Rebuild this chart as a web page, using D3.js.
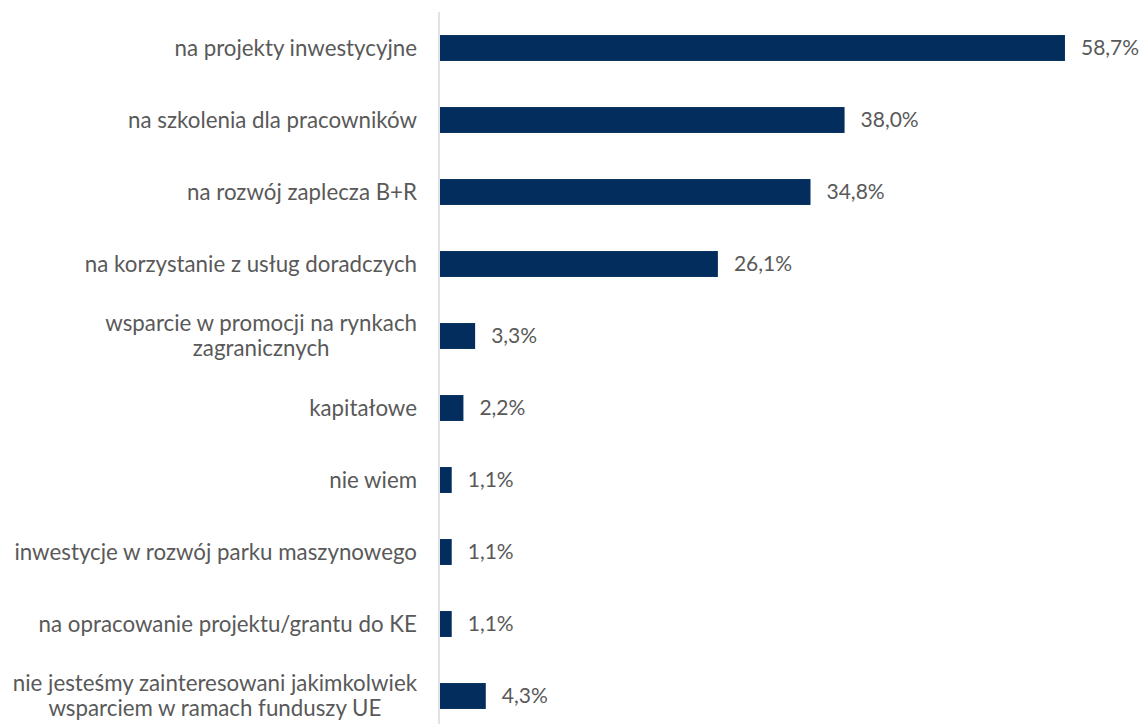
<!DOCTYPE html>
<html>
<head>
<meta charset="utf-8">
<script src="https://cdn.jsdelivr.net/npm/d3@7"></script>
<style>
  body { margin: 0; background: #fff; }
  svg { display: block; font-family: Lato, "Open Sans", sans-serif; }
</style>
</head>
<body>
<svg id="chart" width="1144" height="724"></svg>
<script>
// ── Data ──────────────────────────────────────────────────────────────────────
const categories = [
  ['na projekty inwestycyjne'],
  ['na szkolenia dla pracowników'],
  ['na rozwój zaplecza B+R'],
  ['na korzystanie z usług doradczych'],
  ['wsparcie w promocji na rynkach', 'zagranicznych'],
  ['kapitałowe'],
  ['nie wiem'],
  ['inwestycje w rozwój parku maszynowego'],
  ['na opracowanie projektu/grantu do KE'],
  ['nie jesteśmy zainteresowani jakimkolwiek', 'wsparciem w ramach funduszy UE']
];
const values = [58.7, 38.0, 34.8, 26.1, 3.3, 2.2, 1.1, 1.1, 1.1, 4.3];

// ── Layout ────────────────────────────────────────────────────────────────────
const W = 1144, H = 724;
const X0 = 440;
const BAR = '#022d5d', TEXT = '#595959';
const LABEL_SIZE = 22.3, VALUE_SIZE = 21;

const svg = d3.select('#chart');

const y = d3.scaleBand()
  .domain(d3.range(values.length))
  .range([12, 732])
  .paddingInner(0.64)
  .paddingOuter(0.32);

const x = d3.scaleLinear().domain([0, 60]).range([X0, X0 + 638.8]);

// bars
svg.append('g').selectAll('rect')
  .data(values)
  .join('rect')
  .attr('x', x(0))
  .attr('y', (d, i) => y(i))
  .attr('width', d => x(d) - x(0))
  .attr('height', y.bandwidth())
  .attr('fill', BAR);

// vertical axis line
svg.append('line')
  .attr('x1', X0 - 1).attr('x2', X0 - 1)
  .attr('y1', 12).attr('y2', H)
  .attr('stroke', '#d9d9d9').attr('stroke-width', 1.5);

// category labels
const fmt = v => d3.format('.1f')(v).replace('.', ',') + '%';
const lineH = 25;

const labels = svg.append('g').selectAll('text')
  .data(categories)
  .join('text')
  .attr('font-size', LABEL_SIZE)
  .attr('fill', TEXT)
  .each(function(lines, i) {
    const cy = y(i) + y.bandwidth() / 2;
    const t = d3.select(this);
    const n = lines.length;
    t.attr('text-anchor', n > 1 ? 'middle' : 'end');
    lines.forEach((s, k) => {
      t.append('tspan')
        .attr('x', X0 - 23)
        .attr('y', cy + (k - (n - 1) / 2) * lineH)
        .attr('dy', '0.35em')
        .text(s);
    });
  });

// multi-line labels: centred under their widest line, right-aligned to the axis
labels.each(function() {
  const t = d3.select(this);
  if (t.selectAll('tspan').size() < 2) return;
  const w = d3.max(t.selectAll('tspan').nodes(), n => n.getComputedTextLength());
  t.selectAll('tspan').attr('x', X0 - 23 - w / 2);
});

// value labels
svg.append('g').selectAll('text')
  .data(values)
  .join('text')
  .attr('x', d => x(d) + 16)
  .attr('y', (d, i) => y(i) + y.bandwidth() / 2)
  .attr('dy', '0.35em')
  .attr('font-size', VALUE_SIZE)
  .attr('fill', TEXT)
  .text(fmt);
</script>
</body>
</html>
